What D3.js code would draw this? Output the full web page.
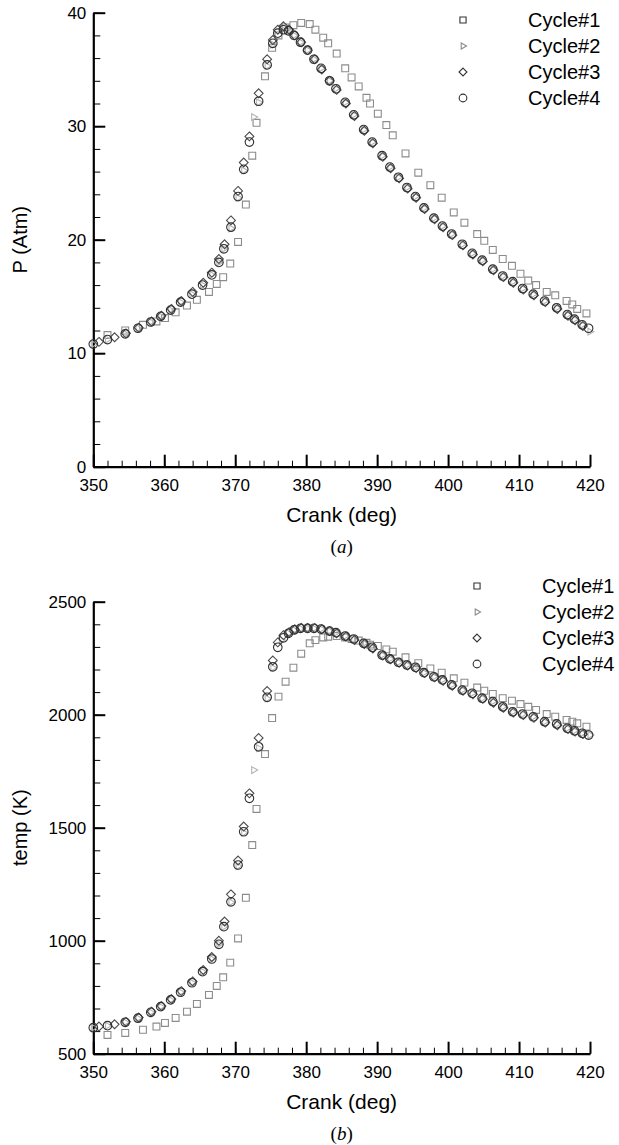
<!DOCTYPE html>
<html>
  <head>
    <meta charset="utf-8">
    <title>Cycle pressure and temperature</title>
    <script src="https://cdn.jsdelivr.net/npm/d3@7"></script>
    <style>
      body { margin: 0; background: #fff; }
      svg text { font-family: "Liberation Sans", Arial, sans-serif; fill: #000; }
      .caption { font-family: "Liberation Serif", "DejaVu Serif", serif; }
    </style>
  </head>
  <body>
    <svg id="chart" width="619" height="1145"></svg>
    <script>
      // cycle names
      const cycles = ["Cycle#1", "Cycle#2", "Cycle#3", "Cycle#4"];

      // cycle 1: crank angle (deg), pressure (atm), temperature (K)
      const crank1 = [352.0, 354.5, 357.0, 358.9, 360.1, 361.6, 363.2, 364.6, 366.3, 367.4, 368.3, 369.3, 370.4, 371.5, 372.4, 373.0, 374.2, 375.2, 376.1, 377.1, 378.2, 379.3, 380.5, 381.3, 382.4, 383.1, 384.3, 385.5, 386.4, 387.4, 388.5, 389.0, 390.1, 391.3, 392.2, 394.0, 395.8, 397.5, 399.1, 400.8, 402.3, 404.1, 405.1, 406.3, 407.7, 409.0, 410.2, 411.3, 412.4, 413.9, 415.1, 416.7, 417.5, 418.2, 419.5];
      const p1 = [11.6, 12.0, 12.5, 12.8, 13.1, 13.6, 14.2, 14.7, 15.4, 16.1, 16.7, 17.9, 19.8, 23.1, 27.4, 30.3, 34.4, 36.9, 38.0, 38.7, 38.9, 39.1, 39.0, 38.5, 37.8, 37.3, 36.4, 35.1, 34.3, 33.5, 32.5, 32.0, 31.1, 30.1, 29.2, 27.6, 25.9, 24.8, 23.7, 22.4, 21.5, 20.5, 19.9, 19.1, 18.3, 17.7, 17.0, 16.4, 16.0, 15.4, 15.1, 14.6, 14.3, 13.9, 13.5];
      const t1 = [583, 592, 606, 620, 636, 658, 686, 720, 760, 800, 838, 903, 1010, 1190, 1423, 1583, 1826, 1985, 2080, 2146, 2208, 2270, 2316, 2330, 2342, 2345, 2348, 2342, 2335, 2328, 2318, 2310, 2304, 2289, 2279, 2254, 2228, 2205, 2186, 2161, 2142, 2120, 2106, 2092, 2073, 2062, 2047, 2035, 2021, 2003, 1991, 1977, 1969, 1962, 1947];

      // cycle 2
      const crank2 = [350.0, 352.0, 354.5, 356.3, 358.1, 359.5, 360.9, 362.3, 363.9, 365.4, 366.7, 367.7, 368.4, 369.4, 370.4, 371.2, 372.6, 373.3, 374.5, 375.3, 376.5, 377.5, 378.3, 379.2, 380.2, 381.1, 382.1, 383.3, 384.2, 385.5, 386.7, 388.1, 389.3, 390.7, 391.8, 393.0, 394.2, 395.4, 396.6, 398.0, 399.2, 400.5, 402.0, 403.4, 404.8, 406.3, 407.7, 409.1, 410.5, 412.0, 413.6, 415.3, 416.8, 417.8, 418.9, 420.0];
      const p2 = [10.8, 11.2, 11.7, 12.2, 12.75, 13.25, 13.8, 14.5, 15.2, 16.0, 16.9, 18.0, 19.2, 21.0, 23.7, 26.1, 30.8, 32.1, 35.3, 37.2, 38.6, 38.4, 38.0, 37.4, 36.7, 35.9, 35.1, 34.0, 33.3, 32.1, 31.0, 29.7, 28.6, 27.4, 26.4, 25.5, 24.6, 23.8, 22.8, 21.9, 21.2, 20.5, 19.6, 18.8, 18.2, 17.4, 16.8, 16.3, 15.7, 15.2, 14.6, 14.0, 13.4, 13.0, 12.5, 11.9];
      const t2 = [615, 624, 639, 657, 683, 708, 738, 772, 814, 863, 919, 984, 1062, 1170, 1330, 1478, 1755, 1852, 2072, 2208, 2330, 2360, 2375, 2382, 2382, 2382, 2379, 2370, 2363, 2348, 2335, 2316, 2298, 2264, 2247, 2232, 2220, 2210, 2186, 2168, 2154, 2132, 2109, 2095, 2073, 2058, 2035, 2013, 2003, 1991, 1969, 1959, 1940, 1929, 1918, 1910];

      // cycle 3
      const crank3 = [350.8, 353.0, 354.6, 356.4, 358.2, 359.6, 361.0, 362.4, 364.0, 365.5, 366.7, 367.7, 368.5, 369.4, 370.4, 371.2, 372.0, 373.3, 374.5, 375.3, 376.0, 376.8, 377.6, 378.4, 379.3, 380.2, 381.2, 382.2, 383.3, 384.3, 385.6, 386.8, 388.2, 389.4, 390.8, 391.9, 393.1, 394.3, 395.5, 396.7, 398.1, 399.3, 400.6, 402.1, 403.5, 404.9, 406.4, 407.8, 409.2, 410.6, 412.1, 413.7, 415.4, 416.9, 417.9, 419.0];
      const p3 = [11.0, 11.4, 11.75, 12.25, 12.8, 13.3, 13.9, 14.6, 15.4, 16.2, 17.1, 18.3, 19.6, 21.7, 24.3, 26.8, 29.1, 32.9, 35.9, 37.6, 38.5, 38.8, 38.5, 38.0, 37.4, 36.7, 35.9, 35.0, 34.0, 33.2, 32.0, 30.9, 29.6, 28.5, 27.3, 26.3, 25.4, 24.5, 23.7, 22.7, 21.8, 21.1, 20.4, 19.5, 18.7, 18.1, 17.3, 16.7, 16.2, 15.6, 15.1, 14.5, 13.9, 13.3, 12.9, 12.4];
      const t3 = [620, 630, 641, 660, 686, 711, 742, 777, 820, 870, 928, 1000, 1085, 1205, 1355, 1505, 1652, 1897, 2105, 2240, 2320, 2352, 2365, 2378, 2384, 2384, 2383, 2378, 2370, 2360, 2346, 2330, 2313, 2293, 2262, 2245, 2230, 2218, 2206, 2184, 2165, 2150, 2128, 2106, 2090, 2070, 2053, 2031, 2010, 1998, 1986, 1965, 1953, 1936, 1925, 1914];

      // cycle 4
      const crank4 = [350.0, 352.0, 354.5, 356.3, 358.1, 359.5, 360.9, 362.3, 363.9, 365.4, 366.7, 367.7, 368.4, 369.4, 370.4, 371.2, 372.0, 373.3, 374.5, 375.3, 376.0, 376.8, 377.5, 378.3, 379.2, 380.2, 381.1, 382.1, 383.3, 384.2, 385.5, 386.7, 388.1, 389.3, 390.7, 391.8, 393.0, 394.2, 395.4, 396.6, 398.0, 399.2, 400.5, 402.0, 403.4, 404.8, 406.3, 407.7, 409.1, 410.5, 412.0, 413.6, 415.3, 416.8, 417.8, 418.9, 419.8];
      const p4 = [10.8, 11.2, 11.7, 12.2, 12.75, 13.25, 13.8, 14.5, 15.2, 16.0, 16.9, 18.0, 19.2, 21.1, 23.8, 26.2, 28.6, 32.2, 35.4, 37.3, 38.2, 38.5, 38.4, 38.0, 37.4, 36.7, 35.9, 35.1, 34.0, 33.3, 32.1, 31.0, 29.7, 28.6, 27.4, 26.4, 25.5, 24.6, 23.8, 22.8, 21.9, 21.2, 20.5, 19.6, 18.8, 18.2, 17.4, 16.8, 16.3, 15.7, 15.2, 14.6, 14.0, 13.4, 13.0, 12.5, 12.2];
      const t4 = [615, 624, 639, 657, 683, 708, 738, 772, 814, 863, 919, 984, 1062, 1172, 1335, 1482, 1630, 1858, 2077, 2212, 2298, 2340, 2360, 2375, 2382, 2382, 2382, 2379, 2370, 2363, 2348, 2335, 2316, 2298, 2264, 2247, 2232, 2220, 2210, 2186, 2168, 2154, 2132, 2109, 2095, 2073, 2058, 2035, 2013, 2003, 1991, 1969, 1959, 1940, 1929, 1918, 1910];

      // axis ticks
      const xMajor = [350, 360, 370, 380, 390, 400, 410, 420];
      const pMajor = [0, 10, 20, 30, 40];
      const tMajor = [500, 1000, 1500, 2000, 2500];

      const cranks = [crank1, crank2, crank3, crank4];
      const markers = [
        { type: d3.symbolSquare2, size: 60, rotate: 0, colour: "#8c8c8c" },
        { type: d3.symbolTriangle2, size: 34, rotate: 90, colour: "#b4b4b4" },
        { type: d3.symbolDiamond2, size: 50, rotate: 0, colour: "#4a4a4a" },
        { type: d3.symbolCircle, size: 58, rotate: 0, colour: "#303030" }
      ];

      const svg = d3.select("#chart");
      const x = d3.scaleLinear().domain([350, 420]).range([93.3, 590]);

      const panels = [
        { values: [p1, p2, p3, p4], domain: [0, 40], range: [466.7, 12.7], major: pMajor, minorStep: 2,
          title: "P (Atm)", caption: "a", legend: { x: 463, y: 20, tx: 528 } },
        { values: [t1, t2, t3, t4], domain: [500, 2500], range: [1053.7, 601.7], major: tMajor, minorStep: 100,
          title: "temp (K)", caption: "b", legend: { x: 477, y: 586, tx: 542 } }
      ];

      panels.forEach(function(panel) {
        const y = d3.scaleLinear().domain(panel.domain).range(panel.range);
        const g = svg.append("g");
        const yBase = panel.range[0];
        const xMinor = d3.range(350, 420.1, 2);
        const yMinor = d3.range(panel.domain[0], panel.domain[1] + 0.1, panel.minorStep);

        // minor ticks
        g.append("g")
          .attr("transform", "translate(0," + yBase + ")")
          .call(d3.axisBottom(x).tickValues(xMinor).tickSize(-6).tickSizeOuter(0).tickFormat(""))
          .call(function(a) { a.select(".domain").remove(); a.selectAll("line").attr("stroke-width", 1); });
        g.append("g")
          .attr("transform", "translate(" + x.range()[0] + ",0)")
          .call(d3.axisLeft(y).tickValues(yMinor).tickSize(-7).tickSizeOuter(0).tickFormat(""))
          .call(function(a) { a.select(".domain").remove(); a.selectAll("line").attr("stroke-width", 1); });

        // major ticks and labels
        const xAxis = g.append("g")
          .attr("transform", "translate(0," + yBase + ")")
          .call(d3.axisBottom(x).tickValues(xMajor).tickSize(-12).tickSizeOuter(0).tickPadding(12).tickFormat(d3.format("d")));
        const yAxis = g.append("g")
          .attr("transform", "translate(" + x.range()[0] + ",0)")
          .call(d3.axisLeft(y).tickValues(panel.major).tickSize(-12).tickSizeOuter(0).tickPadding(7).tickFormat(d3.format("d")));
        [xAxis, yAxis].forEach(function(a) {
          a.select(".domain").attr("stroke-width", 2.2);
          a.selectAll(".tick line").attr("stroke-width", 2);
          a.selectAll(".tick text")
            .style("font-family", "'Liberation Sans', Arial, sans-serif")
            .style("font-size", "17px");
        });

        // axis titles
        g.append("text")
          .attr("x", d3.mean(x.range()))
          .attr("y", yBase + 55)
          .attr("text-anchor", "middle")
          .style("font-size", "21px")
          .text("Crank (deg)");
        g.append("text")
          .attr("transform", "translate(27," + d3.mean(panel.range) + ") rotate(-90)")
          .attr("text-anchor", "middle")
          .style("font-size", "20px")
          .text(panel.title);
        const cap = g.append("text")
          .attr("class", "caption")
          .attr("x", d3.mean(x.range()))
          .attr("y", yBase + 86)
          .attr("text-anchor", "middle")
          .style("font-size", "19px");
        cap.append("tspan").text("(");
        cap.append("tspan").style("font-style", "italic").text(panel.caption);
        cap.append("tspan").text(")");

        // data points
        panel.values.forEach(function(vals, i) {
          const m = markers[i];
          const sym = d3.symbol().type(m.type).size(m.size);
          g.append("g")
            .selectAll("path")
            .data(vals)
            .enter().append("path")
              .attr("d", sym)
              .attr("transform", function(d, j) {
                return "translate(" + x(cranks[i][j]) + "," + y(d) + ") rotate(" + m.rotate + ")";
              })
              .attr("fill", "none")
              .attr("stroke", m.colour)
              .attr("stroke-width", 1.1);
        });

        // legend
        const legend = g.append("g");
        cycles.forEach(function(name, i) {
          const m = markers[i];
          const ly = panel.legend.y + i * 26;
          legend.append("path")
            .attr("d", d3.symbol().type(m.type).size(m.size * 0.8))
            .attr("transform", "translate(" + panel.legend.x + "," + ly + ") rotate(" + m.rotate + ")")
            .attr("fill", "none")
            .attr("stroke", i == 1 ? "#8c8c8c" : "#333")
            .attr("stroke-width", 1.1);
          legend.append("text")
            .attr("x", panel.legend.tx)
            .attr("y", ly)
            .attr("dy", "0.36em")
            .style("font-size", "20px")
            .text(name);
        });
      });
    </script>
  </body>
</html>
